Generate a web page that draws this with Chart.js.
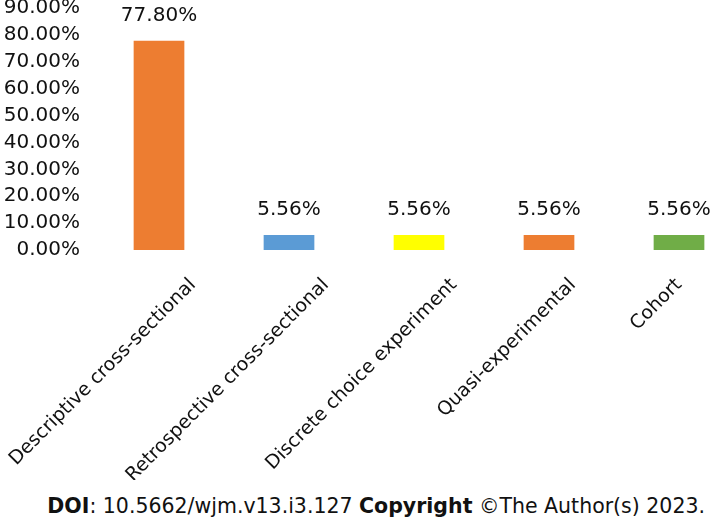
<!DOCTYPE html>
<html>
<head>
<meta charset="utf-8">
<script src="https://cdn.jsdelivr.net/npm/chart.js@4.4.0/dist/chart.umd.min.js"></script>
<style>
  html, body { margin: 0; padding: 0; background: #fff; overflow: hidden; }
  #wrap { position: relative; width: 710px; height: 522px; overflow: hidden; }
  canvas { position: absolute; left: 0; top: 0; }
  #doi { position: absolute; right: 5px; top: 494px; font: 20.5px "DejaVu Sans", sans-serif; color: #111; white-space: nowrap; }
</style>
</head>
<body>
<div id="wrap">
  <canvas id="designChart" width="746" height="480"></canvas>
  <div id="doi"><b>DOI</b>: 10.5662/wjm.v13.i3.127 <b>Copyright</b> ©The Author(s) 2023.</div>
</div>
<script>
// study designs and their share of included studies (%)
const designs = [
  'Descriptive cross-sectional',
  'Retrospective cross-sectional',
  'Discrete choice experiment',
  'Quasi-experimental',
  'Cohort'
];
const shares = [77.80, 5.56, 5.56, 5.56, 5.56];
const barColors = ['#ED7D31', '#5B9BD5', '#FFFF00', '#ED7D31', '#70AD47'];
const yMax = 90;
const yStep = 10;

const FONT = 'DejaVu Sans';
// the original places long rotated labels a bit right of the tick
const tickShift = [34, 37, 35, 24, 0];

// nudge each category label sideways, like the original layout
const shiftTicks = {
  id: 'shiftTicks',
  beforeDraw(chart) {
    chart.scales.x.getLabelItems().forEach((item, i) => {
      if (item.shifted) return;
      item.options.translation[0] += tickShift[i];
      item.shifted = true;
    });
  }
};

// write the percentage above each bar
const valueLabels = {
  id: 'valueLabels',
  afterDatasetsDraw(chart) {
    const ctx = chart.ctx;
    const meta = chart.getDatasetMeta(0);
    ctx.save();
    ctx.font = '20px "' + FONT + '"';
    ctx.fillStyle = '#111';
    ctx.textAlign = 'center';
    ctx.textBaseline = 'middle';
    meta.data.forEach((bar, i) => {
      ctx.fillText(shares[i].toFixed(2) + '%', bar.x, bar.y - 25);
    });
    ctx.restore();
  }
};

const designChart = new Chart(document.getElementById('designChart').getContext('2d'), {
  type: 'bar',
  data: {
    labels: designs,
    datasets: [{
      data: shares,
      backgroundColor: barColors,
      borderWidth: 0,
      categoryPercentage: 1,
      barPercentage: 0.39
    }]
  },
  options: {
    responsive: false,
    animation: false,
    layout: {
      padding: { left: 3, right: 2, top: 8, bottom: 0 }
    },
    plugins: {
      legend: { display: false },
      tooltip: { enabled: false }
    },
    scales: {
      x: {
        grid: { display: false, drawTicks: false },
        border: { display: false },
        ticks: {
          autoSkip: false,
          minRotation: 45,
          maxRotation: 45,
          padding: 24,
          color: '#111',
          font: { family: FONT, size: 19 }
        },
        afterFit: (scale) => {
          scale.height = 230;
          scale.paddingLeft = 0;
          scale.paddingRight = 0;
        }
      },
      y: {
        min: 0,
        max: yMax,
        grid: { display: false, drawTicks: false },
        border: { display: false },
        ticks: {
          autoSkip: false,
          stepSize: yStep,
          padding: 14,
          color: '#111',
          font: { family: FONT, size: 20 },
          callback: (v) => v.toFixed(2) + '%'
        },
        afterFit: (scale) => {
          scale.width = 91;
          scale.paddingTop = 0;
          scale.paddingBottom = 0;
        }
      }
    }
  },
  plugins: [shiftTicks, valueLabels]
});
</script>
</body>
</html>
